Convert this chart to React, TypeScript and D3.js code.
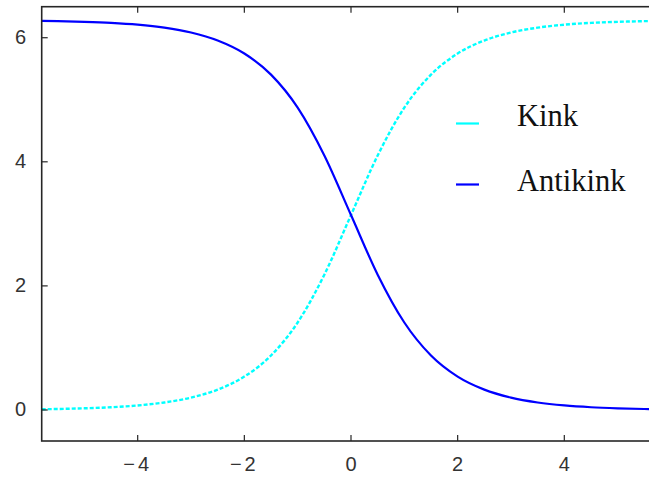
import React from "react";
import * as d3 from "d3";

// Sample positions along x
const xs = [
  -5.8, -5.5, -5, -4.5, -4, -3.5, -3, -2.5, -2, -1.5, -1, -0.5, 0,
  0.5, 1, 1.5, 2, 2.5, 3, 3.5, 4, 4.5, 5, 5.5, 5.8,
];

// Kink profile (rises from 0 to 2π)
const kink = [
  0.012, 0.016, 0.027, 0.044, 0.073, 0.121, 0.199, 0.328, 0.538, 0.878, 1.41, 2.181, 3.142,
  4.102, 4.873, 5.405, 5.745, 5.955, 6.084, 6.162, 6.21, 6.239, 6.256, 6.267, 6.271,
];

// Antikink profile (falls from 2π to 0)
const antikink = [
  6.271, 6.267, 6.256, 6.239, 6.21, 6.162, 6.084, 5.955, 5.745, 5.405, 4.873, 4.102, 3.142,
  2.181, 1.41, 0.878, 0.538, 0.328, 0.199, 0.121, 0.073, 0.044, 0.027, 0.016, 0.012,
];

const xTicks = [-4, -2, 0, 2, 4];
const yTicks = [0, 2, 4, 6];

const seriesNames = ["Kink", "Antikink"];

const W = 649;
const H = 479;

export default function App() {
  const x = d3.scaleLinear().domain([-5.8, 5.8]).range([41.7, 660.3]);
  const y = d3.scaleLinear().domain([-0.5, 6.5]).range([441, 6.7]);

  const line = d3
    .line<number>()
    .x((_, i) => x(xs[i]))
    .y((d) => y(d))
    .curve(d3.curveMonotoneX);

  const frame = "#262626";
  const tickLen = 6;
  const tickFont = "'Liberation Sans', Arial, sans-serif";

  return (
    <svg
      width={W}
      height={H}
      style={{ position: "absolute", left: 0, top: 0, background: "#fff" }}
    >
      <defs>
        <clipPath id="plot">
          <rect x={x(-5.8)} y={y(6.5)} width={x(5.8) - x(-5.8)} height={y(-0.5) - y(6.5)} />
        </clipPath>
      </defs>

      {/* curves */}
      <g clipPath="url(#plot)" fill="none">
        <path
          d={line(kink) || ""}
          stroke="#00ffff"
          strokeWidth={2.4}
          strokeDasharray="4,2"
        />
        <path d={line(antikink) || ""} stroke="#0000ff" strokeWidth={2.2} />
      </g>

      {/* frame */}
      <rect
        x={x(-5.8)}
        y={y(6.5)}
        width={x(5.8) - x(-5.8)}
        height={y(-0.5) - y(6.5)}
        fill="none"
        stroke={frame}
        strokeWidth={1.6}
      />

      {/* x ticks, mirrored on top */}
      {xTicks.map((t) => (
        <g key={"x" + t}>
          <line x1={x(t)} x2={x(t)} y1={y(-0.5)} y2={y(-0.5) - tickLen} stroke={frame} strokeWidth={1.2} />
          <line x1={x(t)} x2={x(t)} y1={y(6.5)} y2={y(6.5) + tickLen} stroke={frame} strokeWidth={1.2} />
          <text
            x={x(t)}
            y={466}
            textAnchor="middle"
            dominantBaseline="middle"
            fontFamily={tickFont}
            fontSize={20}
            fill="#333"
            letterSpacing={t < 0 ? 3 : 0}
          >
            {t < 0 ? "\u2212" + Math.abs(t) : String(t)}
          </text>
        </g>
      ))}

      {/* y ticks */}
      {yTicks.map((t) => (
        <g key={"y" + t}>
          <line x1={x(-5.8)} x2={x(-5.8) + tickLen} y1={y(t)} y2={y(t)} stroke={frame} strokeWidth={1.2} />
          <text
            x={26}
            y={y(t) + 1}
            textAnchor="end"
            dominantBaseline="middle"
            fontFamily={tickFont}
            fontSize={20}
            fill="#333"
          >
            {t}
          </text>
        </g>
      ))}

      {/* legend */}
      {seriesNames.map((name, i) => (
        <g key={name}>
          <line
            x1={456}
            x2={479}
            y1={123.5 + i * 61}
            y2={123.5 + i * 61}
            stroke={i === 0 ? "#00ffff" : "#0000ff"}
            strokeWidth={2.2}
          />
          <text
            x={517}
            y={126 + i * 65}
            fontFamily="'Liberation Serif', 'Times New Roman', serif"
            fontSize={30.5}
            fill="#111"
          >
            {name}
          </text>
        </g>
      ))}
    </svg>
  );
}
